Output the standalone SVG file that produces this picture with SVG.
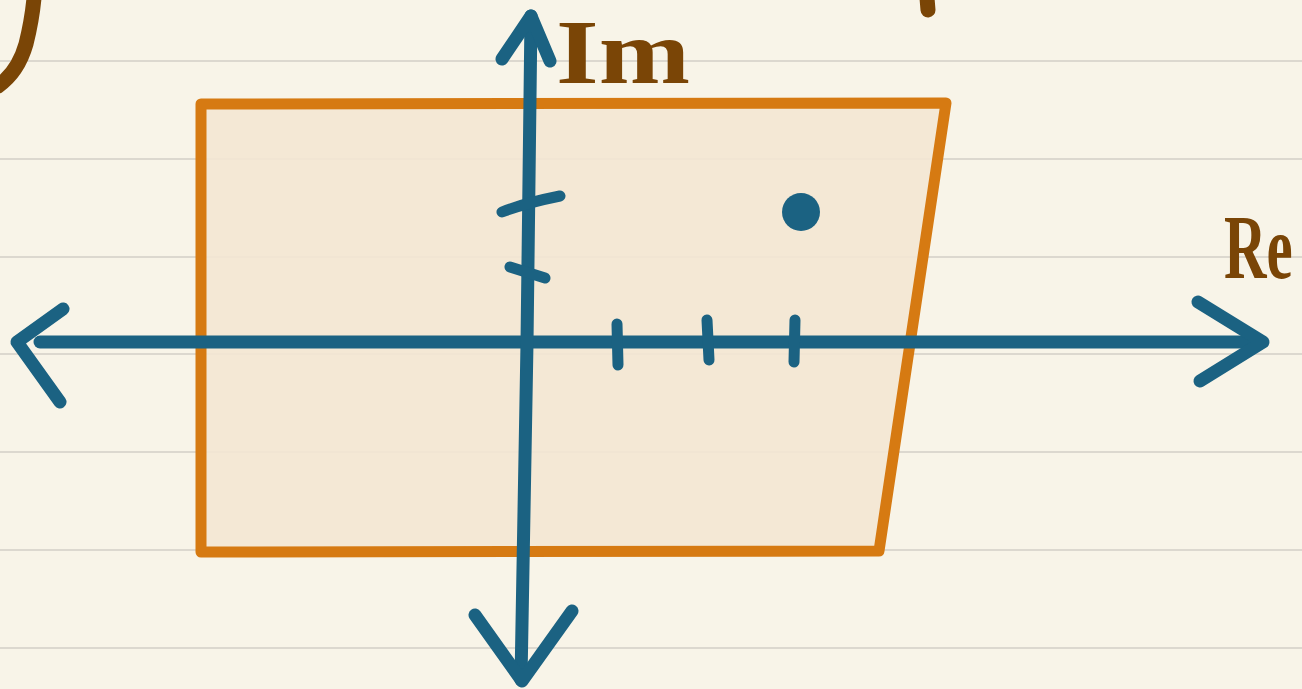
<svg xmlns="http://www.w3.org/2000/svg" width="1302" height="689" viewBox="0 0 1302 689">
<style>
.rule{stroke:#dcd8cf;stroke-width:2}
.axis{stroke:#1b6282;stroke-width:13;stroke-linecap:round;stroke-linejoin:round;fill:none}
.tick{stroke:#1b6282;stroke-width:11;stroke-linecap:round;fill:none}
.ink{stroke:#7a4506;stroke-width:15;stroke-linecap:round;fill:none}
.lbl{fill:#7a4506;font-family:"Liberation Serif",serif;font-weight:bold}
</style>
<rect width="1302" height="689" fill="#f8f4e8"/>
<g id="rules">
<line class="rule" x1="0" y1="61" x2="1302" y2="61"/>
<line class="rule" x1="0" y1="159" x2="1302" y2="159"/>
<line class="rule" x1="0" y1="257" x2="1302" y2="257"/>
<line class="rule" x1="0" y1="354" x2="1302" y2="354"/>
<line class="rule" x1="0" y1="452" x2="1302" y2="452"/>
<line class="rule" x1="0" y1="550" x2="1302" y2="550"/>
<line class="rule" x1="0" y1="648" x2="1302" y2="648"/>
</g>
<g id="fragments">
<path class="ink" d="M-2 86 Q18 72 26 44 Q32 20 34 -2"/>
<path class="ink" d="M927 -2 L928 10"/>
</g>
<g id="region">
<path d="M201 104 L946 103 L879 551 L201 552 Z" fill="#f3e7d3" fill-opacity="0.9" stroke="#d67a12" stroke-width="11" stroke-linejoin="round"/>
</g>
<g id="connectors">
<path class="axis" d="M40 342 L1262 342"/>
<path class="axis" d="M63 309 L17 342 L60 402"/>
<path class="axis" d="M1198 302 L1263 342 L1200 381"/>
<path class="axis" d="M531 16 L527 343 L521 680"/>
<path class="axis" d="M502 59 L531 16 L550 61"/>
<path class="axis" d="M475 615 L522 681 L572 611"/>
</g>
<g id="ticks">
<path class="tick" d="M502 212 Q525 203 560 196"/>
<path class="tick" d="M510 267 L545 278"/>
<path class="tick" d="M617 324 L618 365"/>
<path class="tick" d="M707 320 L709 360"/>
<path class="tick" d="M795 320 L794 362"/>
</g>
<g id="point">
<circle cx="801" cy="212" r="19" fill="#1b6282"/>
</g>
<g id="label-im">
<text class="lbl" x="556" y="83" font-size="92" textLength="134" lengthAdjust="spacingAndGlyphs">Im</text>
</g>
<g id="label-re">
<text class="lbl" transform="translate(1224 278) scale(0.64 1)" x="0" y="0" font-size="92">Re</text>
</g>
</svg>
